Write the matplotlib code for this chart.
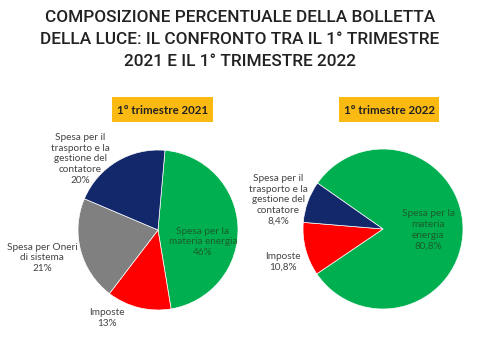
import matplotlib
matplotlib.use("Agg")
import matplotlib.pyplot as plt
from matplotlib.patches import Rectangle

title_lines = ["COMPOSIZIONE PERCENTUALE DELLA BOLLETTA",
               "DELLA LUCE: IL CONFRONTO TRA IL 1° TRIMESTRE",
               "2021 E IL 1° TRIMESTRE 2022"]

periods = ["1° trimestre 2021", "1° trimestre 2022"]

# order: materia energia, imposte, oneri di sistema, trasporto
labels_2021 = ["Spesa per la\nmateria energia\n46%", "Imposte\n13%",
               "Spesa per Oneri\ndi sistema\n21%",
               "Spesa per il\ntrasporto e la\ngestione del\ncontatore\n20%"]
values_2021 = [46, 13, 21, 20]

labels_2022 = ["Spesa per la\nmateria\nenergia\n80,8%", "Imposte\n10,8%",
               "Spesa per il\ntrasporto e la\ngestione del\ncontatore\n8,4%"]
values_2022 = [80.8, 10.8, 8.4]

colors_2021 = ["#00B050", "#FF0000", "#808080", "#12286B"]
colors_2022 = ["#00B050", "#FF0000", "#12286B"]

W, H = 480, 360
fig = plt.figure(figsize=(4.8, 3.6), dpi=100)
fig.patch.set_facecolor("white")

# title
for line, yy in zip(title_lines, [17, 40, 62]):
    fig.text(0.5, 1 - yy / H, line, ha="center", va="center",
             fontsize=12.4, family="Roboto", color="#222222", fontweight="medium")

R = 80.0  # px per unit


def make_axes(x0, x1, y0, y1):
    return fig.add_axes([x0 / W, 1 - y1 / H, (x1 - x0) / W, (y1 - y0) / H])


def set_lims(ax, cx, cy, x0, x1, y0, y1):
    ax.set_aspect("auto")
    ax.set_xlim((x0 - cx) / R, (x1 - cx) / R)
    ax.set_ylim(-(y1 - cy) / R, (cy - y0) / R)
    ax.axis("off")


def to_data(cx, cy, px, py):
    return (px - cx) / R, (cy - py) / R


# left pie
cxL, cyL = 158, 230
boxL = (0, 240, 78, 360)
axL = make_axes(*boxL)
axL.pie(values_2021, colors=colors_2021, startangle=85, counterclock=False,
        radius=1.0, wedgeprops=dict(linewidth=0.5, edgecolor="white"))
set_lims(axL, cxL, cyL, *boxL)
pos_L = [(203, 242), (107, 318), (42, 258), (80, 159)]
for i, (lab, (px, py)) in enumerate(zip(labels_2021, pos_L)):
    x, y = to_data(cxL, cyL, px, py)
    c = "#1C5E2C" if i == 0 else "#444444"
    axL.text(x, y, lab, ha="center", va="center", fontsize=7.2, family="Lato",
             color=c, linespacing=1.25, clip_on=False)

# right pie
cxR, cyR = 383, 229
boxR = (240, 480, 78, 360)
axR = make_axes(*boxR)
axR.pie(values_2022, colors=colors_2022, startangle=145, counterclock=False,
        radius=1.0, wedgeprops=dict(linewidth=0.5, edgecolor="white"))
set_lims(axR, cxR, cyR, *boxR)
pos_R = [(428, 230), (283, 262), (278, 200)]
for i, (lab, (px, py)) in enumerate(zip(labels_2022, pos_R)):
    x, y = to_data(cxR, cyR, px, py)
    c = "#1C5E2C" if i == 0 else "#444444"
    axR.text(x, y, lab, ha="center", va="center", fontsize=7.2, family="Lato",
             color=c, linespacing=1.25, clip_on=False)

# period boxes
for (bx0, bx1), txt in zip([(112, 213), (339, 439)], periods):
    fig.patches.append(Rectangle((bx0 / W, 1 - 122 / H), (bx1 - bx0) / W, 25 / H,
                                 transform=fig.transFigure, facecolor="#FBBA12",
                                 edgecolor="none", zorder=0))
    fig.text((bx0 + bx1) / 2 / W, 1 - 110 / H, txt, ha="center", va="center",
             fontsize=8.3, family="Lato", fontweight="bold", color="#222222")

fig.savefig("out.png", dpi=100)
